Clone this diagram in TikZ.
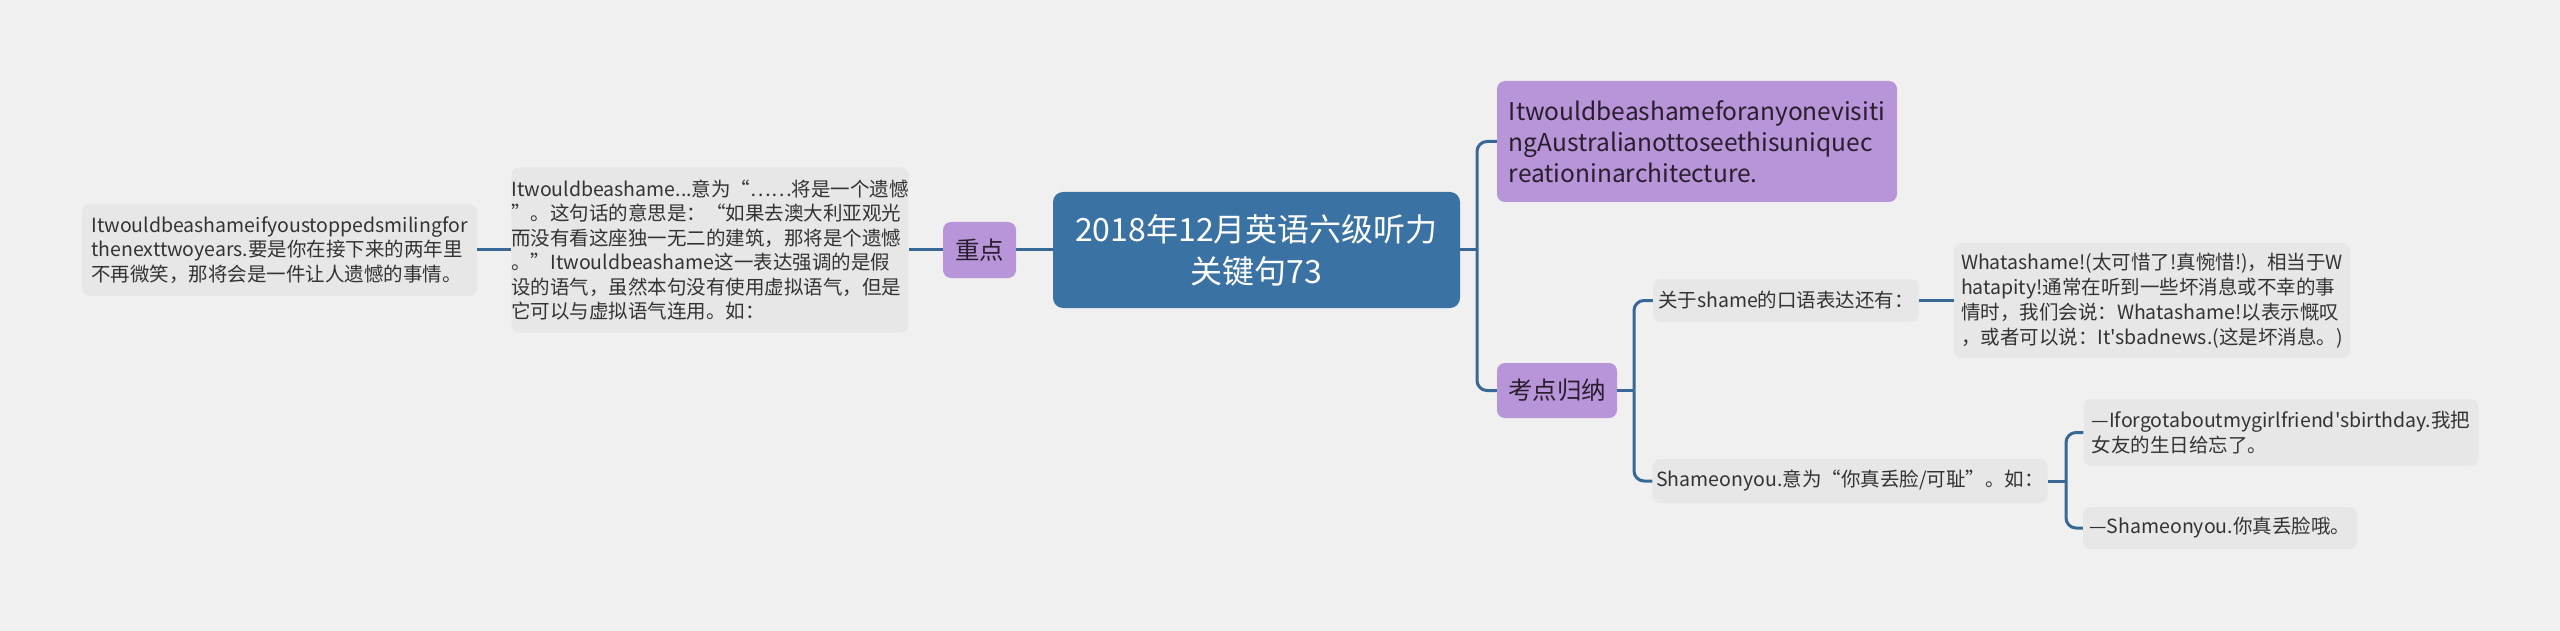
\documentclass[tikz,border=0pt]{standalone}
\usepackage{fontspec}
\setmainfont{Noto Sans CJK SC}[Ligatures=TeXOff]
\definecolor{bgc}{RGB}{240,240,240}
\definecolor{leafgray}{RGB}{231,231,231}
\definecolor{leaftext}{RGB}{51,51,51}
\definecolor{topicpurple}{RGB}{184,149,217}
\definecolor{topictext}{RGB}{40,30,45}
\definecolor{rootblue}{RGB}{59,114,164}
\definecolor{linkblue}{RGB}{56,104,150}
\begin{document}
\begin{tikzpicture}[x=1pt, y=-1pt,
  every node/.style={rounded corners=8pt, inner sep=0pt, align=left},
  leaf/.style={fill=leafgray, text=leaftext, font=\fontsize{19.5}{24.5}\selectfont},
  topic/.style={fill=topicpurple, text=topictext, font=\fontsize{24.5}{31}\selectfont},
  rootbox/.style={fill=rootblue, text=white, align=center, rounded corners=10pt, font=\fontsize{32}{42}\selectfont},
  link/.style={draw=linkblue, line width=3pt, rounded corners=10pt}]
% 1. 背景与边界
\fill[bgc] (0,0) rectangle (2560,631);
\useasboundingbox (0,0) rectangle (2560,631);

% 2. 中心主题
\node[rootbox, minimum width=407, minimum height=116] (root) at (1256.5,250) {2018年12月英语六级听力\\关键句73};

% 3. 左侧分支
\node[topic, minimum width=73, minimum height=56] (zd) at (979.5,250) {重点};
\node[leaf, minimum width=397, minimum height=165] (mid) at (710,250) {Itwouldbeashame...意为“……将是一个遗憾\\”。这句话的意思是：“如果去澳大利亚观光\\而没有看这座独一无二的建筑，那将是个遗憾\\。”Itwouldbeashame这一表达强调的是假\\设的语气，虽然本句没有使用虚拟语气，但是\\它可以与虚拟语气连用。如：};
\node[leaf, minimum width=395, minimum height=92] (fl) at (279.5,250) {Itwouldbeashameifyoustoppedsmilingfor\\thenexttwoyears.要是你在接下来的两年里\\不再微笑，那将会是一件让人遗憾的事情。};

% 4. 右侧分支
\node[topic, minimum width=400, minimum height=121] (tp) at (1697,141.5) {Itwouldbeashameforanyonevisiti\\ngAustralianottoseethisuniquec\\reationinarchitecture.};
\node[topic, minimum width=120, minimum height=55] (kd) at (1557,390.5) {考点归纳};
\node[leaf, minimum width=266, minimum height=43] (q1) at (1786,300.5) {关于shame的口语表达还有：};
\node[leaf, minimum width=396, minimum height=115, font=\fontsize{19.5}{25}\selectfont] (a1) at (2152,300.5) {Whatashame!(太可惜了!真惋惜!)，相当于W\\hatapity!通常在听到一些坏消息或不幸的事\\情时，我们会说：Whatashame!以表示慨叹\\，或者可以说：It'sbadnews.(这是坏消息。)};
\node[leaf, minimum width=395, minimum height=44] (q2) at (1850,481) {Shameonyou.意为“你真丢脸/可耻”。如：};
\node[leaf, minimum width=395, minimum height=67] (b1) at (2281,432.5) {—Iforgotaboutmygirlfriend'sbirthday.我把\\女友的生日给忘了。};
\node[leaf, minimum width=274, minimum height=42] (b2) at (2220,528) {—Shameonyou.你真丢脸哦。};

% 5. 连线
\coordinate (tk1) at (1477,250);
\coordinate (tk2) at (1634,390.5);
\coordinate (tk3) at (2066,481);
\draw[link] (root.west) -- (zd.east);
\draw[link] (zd.west) -- (mid.east);
\draw[link] (mid.west) -- (fl.east);
\draw[link] (root.east) -- (tk1);
\draw[link] (tk1) |- (tp.west);
\draw[link] (tk1) |- (kd.west);
\draw[link] (kd.east) -- (tk2);
\draw[link] (tk2) |- (q1.west);
\draw[link] (tk2) |- (q2.west);
\draw[link] (q1.east) -- (a1.west);
\draw[link] (q2.east) -- (tk3);
\draw[link] (tk3) |- (b1.west);
\draw[link] (tk3) |- (b2.west);
\end{tikzpicture}
\end{document}
